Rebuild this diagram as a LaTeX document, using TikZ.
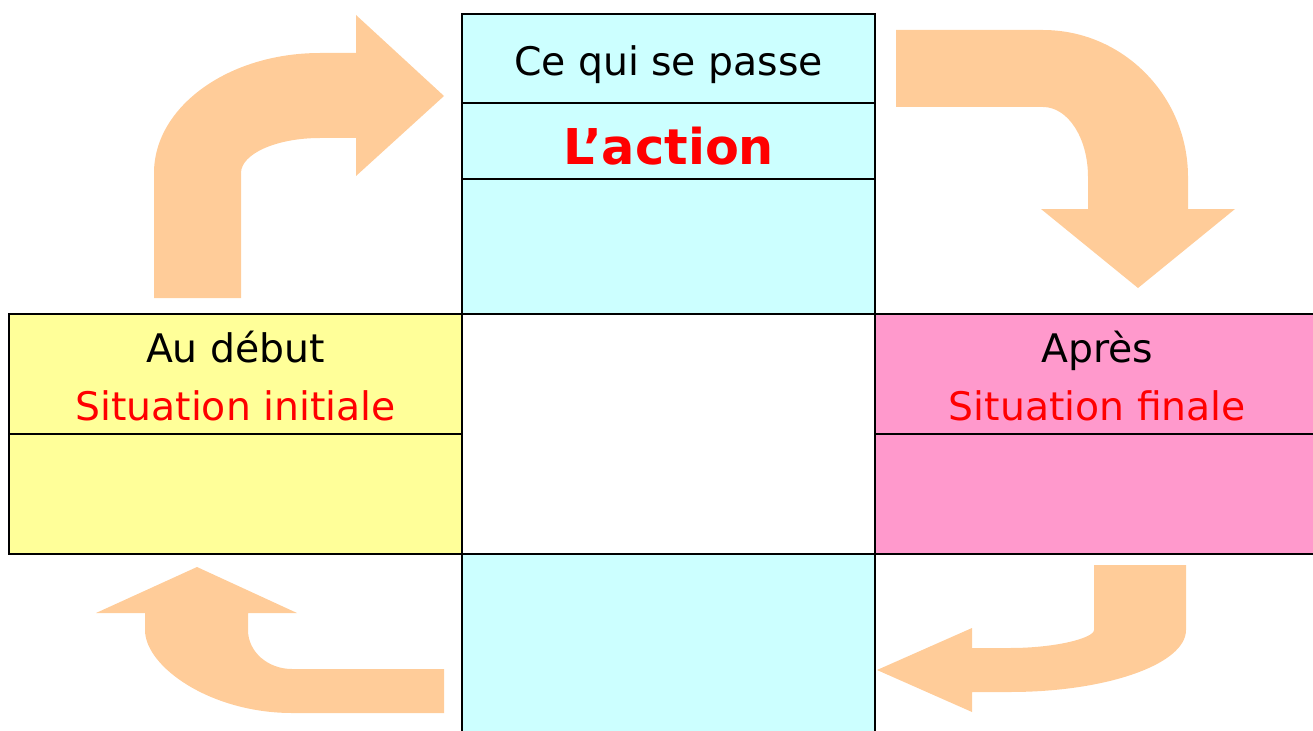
\documentclass[tikz,border=0pt]{standalone}
\usepackage{fontspec}
\setmainfont{DejaVu Sans}
\usetikzlibrary{fit}
\definecolor{ciel}{HTML}{CCFFFF}
\definecolor{jaune}{HTML}{FFFF99}
\definecolor{rose}{HTML}{FF99CC}
\definecolor{peche}{HTML}{FFCC99}
\definecolor{rouge}{HTML}{FF0000}

\begin{document}
\begin{tikzpicture}[x=0.75pt, y=-0.75pt]
\useasboundingbox (0,0) rectangle (1313,731);

% Styles for cells, texts and block arrows
\tikzset{cell/.style={draw=black, line width=1.9pt, inner sep=0pt},
         fleche/.style={fill=peche, draw=none},
         titre/.style={anchor=base, inner sep=0pt, font=\fontsize{29.5}{34}\selectfont},
         rougetxt/.style={titre, text=rouge}}

% Block arrows
\fill[fleche] (154,298) -- (154,173) .. controls (154,107) and (228,53) .. (320,53)
  -- (356,53) -- (356,15) -- (444,96) -- (356,176) -- (356,138) -- (320,138)
  .. controls (276,138) and (241,154) .. (241,173) -- (241,298) -- cycle;
\fill[fleche] (896,30) -- (1043,30) .. controls (1123,30) and (1188,96) .. (1188,177)
  -- (1188,209) -- (1235,209) -- (1138,288) -- (1041,209) -- (1088,209) -- (1088,177)
  .. controls (1088,138) and (1068,107) .. (1043,107) -- (896,107) -- cycle;
\fill[fleche] (1094,565) -- (1186,565) -- (1186,630) .. controls (1186,664) and (1107,692) .. (1010,692)
  -- (972,692) -- (972,712) -- (877,670) -- (972,628) -- (972,648) -- (1010,648)
  .. controls (1056,648) and (1094,638) .. (1094,630) -- cycle;
\fill[fleche] (444,669) -- (444,713) -- (292,713) .. controls (211,713) and (145,667) .. (145,630)
  -- (145,613) -- (96,613) -- (197,567) -- (297,613) -- (248,613) -- (248,630)
  .. controls (248,652) and (268,669) .. (292,669) -- cycle;

% Centre column
\node [cell, fill=ciel, fit={(462,14) (875,103)}] (passe) {};
\node [cell, fill=ciel, fit={(462,103) (875,179)}] (action) {};
\node [cell, fill=ciel, fit={(462,179) (875,314)}] (actionbas) {};
\node [cell, fill=white, fit={(462,314) (875,554)}] (milieu) {};
\node [cell, fill=ciel, fit={(462,554) (875,760)}] (bas) {};

% Side boxes
\node [cell, fill=jaune, fit={(9,314) (462,434)}] (debut) {};
\node [cell, fill=jaune, fit={(9,434) (462,554)}] (debutbas) {};
\node [cell, fill=rose, fit={(875,314) (1320,434)}] (apres) {};
\node [cell, fill=rose, fit={(875,434) (1320,554)}] (apresbas) {};

% Texts
\node [titre] (tpasse) at (668.5,76) {Ce qui se passe};
\node [rougetxt, font=\fontsize{37}{42}\selectfont\bfseries] (taction) at (668.5,165) {L’action};
\node [titre] (tdebut) at (235.5,362) {Au début};
\node [rougetxt] (tinitiale) at (235.5,420) {Situation initiale};
\node [titre] (tapres) at (1097.5,362) {Après};
\node [rougetxt] (tfinale) at (1097.5,420) {Situation finale};

\end{tikzpicture}
\end{document}
